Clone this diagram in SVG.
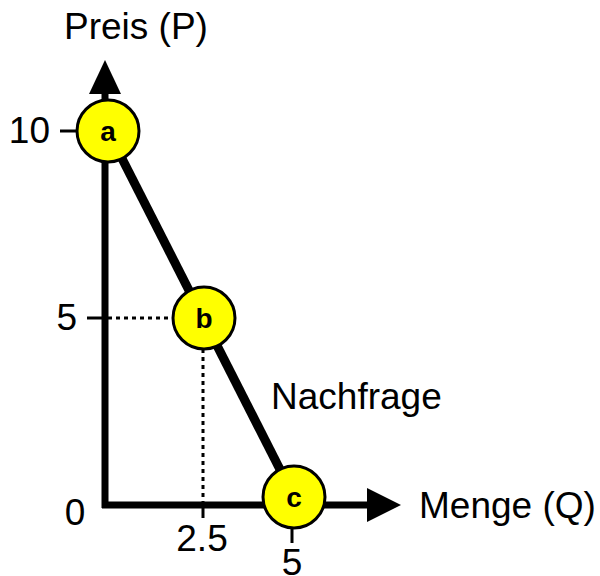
<svg xmlns="http://www.w3.org/2000/svg" width="600" height="576" viewBox="0 0 600 576">
<style>
text{font-family:"Liberation Sans",Arial,sans-serif;fill:#000}
.lbl{font-size:37px}
.node circle{fill:#ffff00;stroke:#000;stroke-width:3}
.node text{font-size:28px;font-weight:bold;text-anchor:middle}
.axis{stroke:#000;stroke-width:7;fill:none}
.tick{stroke:#000;stroke-width:3}
.dot{stroke:#000;stroke-width:3;stroke-dasharray:4 4}
</style>
<rect width="600" height="576" fill="#fff"/>
<g id="connectors">
<line class="axis" x1="105" y1="508" x2="105" y2="90"/>
<polygon points="105,60 89,94 121,94"/>
<line class="axis" x1="102" y1="505" x2="372" y2="505"/>
<polygon points="401,505 367,488 367,522"/>
<line class="tick" x1="60" y1="131" x2="78" y2="131"/>
<line class="tick" x1="87" y1="318" x2="105" y2="318"/>
<line class="dot" x1="108" y1="318" x2="174" y2="318"/>
<line class="dot" x1="203" y1="349" x2="203" y2="502"/>
<line class="tick" x1="203" y1="505" x2="203" y2="518"/>
<line class="tick" x1="292" y1="528" x2="292" y2="543"/>
<line stroke="#000" stroke-width="9" x1="108" y1="131" x2="294" y2="497"/>
</g>
<g id="a" class="node"><circle cx="108" cy="131" r="31"/><text x="108" y="141">a</text></g>
<g id="b" class="node"><circle cx="204" cy="318" r="31"/><text x="204" y="328">b</text></g>
<g id="c" class="node"><circle cx="294" cy="497" r="31"/><text x="294" y="507">c</text></g>
<text class="lbl" x="64" y="39">Preis (P)</text>
<text class="lbl" x="50" y="143" text-anchor="end">10</text>
<text class="lbl" x="77" y="330" text-anchor="end">5</text>
<text class="lbl" x="75" y="525" text-anchor="middle">0</text>
<text class="lbl" x="202" y="551" text-anchor="middle">2.5</text>
<text class="lbl" x="292" y="575" text-anchor="middle">5</text>
<text class="lbl" x="271" y="409">Nachfrage</text>
<text class="lbl" x="419" y="518">Menge (Q)</text>
</svg>
